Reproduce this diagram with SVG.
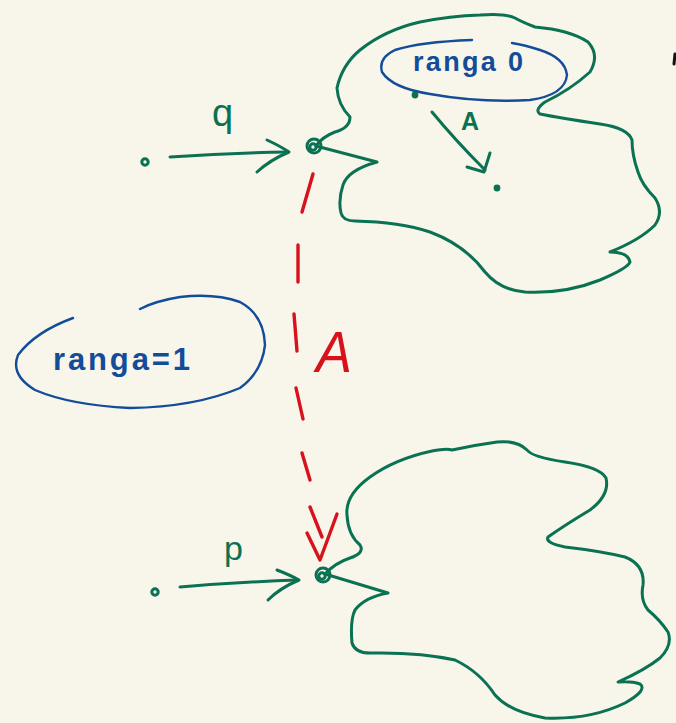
<svg xmlns="http://www.w3.org/2000/svg" width="676" height="723" viewBox="0 0 676 723">
  <defs>
    <style>
      .ink-g { fill: none; stroke: #0a7252; stroke-width: 3; stroke-linecap: round; stroke-linejoin: round; }
      .ink-b { fill: none; stroke: #134c98; stroke-width: 2.4; stroke-linecap: round; stroke-linejoin: round; }
      .ink-r { fill: none; stroke: #d8121c; stroke-width: 3.4; stroke-linecap: round; stroke-linejoin: round; }
      .dot-g { fill: #0a7252; }
      .lbl { font-family: "Liberation Sans", "DejaVu Sans", sans-serif; }
      .lbl-g { fill: #0a7252; }
      .lbl-b { fill: #134c98; font-weight: bold; }
      .lbl-r { fill: #d8121c; }
    </style>
  </defs>

  <rect width="676" height="723" fill="#f8f6eb"/>

  <!-- upper region (rank 0) -->
  <g id="region-top">
    <path class="ink-g" d="M316,146 L377,162 Q348,170 343,185 Q338,200 341,213 Q343,221 355,221 Q400,222 430,232 Q465,245 485,272 Q500,290 525,292 Q565,294 600,280 Q628,268 630,262 Q628,252 610,252 Q640,240 655,225 Q664,212 655,198 Q642,185 638,172 Q632,155 632,140 Q628,128 600,124 Q560,118 540,114 Q534,110 545,102 Q570,90 590,72 Q600,55 588,42 Q570,30 535,27 Q522,22 515,18 Q505,13 480,15 Q450,16 420,22 Q385,30 360,50 Q342,65 337,88 Q338,105 350,117 Q350,128 335,132 Q322,137 316,146"/>
  </g>

  <g id="label-rank0">
    <path class="ink-b" d="M472,40 Q420,42 395,50 Q378,58 382,72 Q392,88 430,94 Q480,103 530,100 Q565,95 567,75 Q565,58 540,50 Q525,45 512,43"/>
    <text class="lbl lbl-b" x="413" y="71" font-size="27" textLength="110" lengthAdjust="spacing">ranga 0</text>
  </g>

  <g id="point-a">
    <circle class="dot-g" cx="415" cy="95" r="3.4"/>
  </g>
  <g id="point-b">
    <circle class="dot-g" cx="497" cy="188" r="3.4"/>
  </g>

  <!-- lower region -->
  <g id="region-bottom">
    <path class="ink-g" d="M325,574 L388,593 Q365,597 355,610 Q350,620 352,643 Q355,653 370,653 Q420,652 455,660 Q480,672 495,695 Q510,712 545,718 Q590,720 625,703 Q648,690 640,684 Q632,681 618,682 Q645,670 660,658 Q673,645 668,632 Q660,620 648,610 Q640,600 643,585 Q645,565 625,557 Q600,551 565,547 Q545,543 548,537 Q565,525 590,510 Q610,495 606,478 Q600,467 565,462 Q532,457 527,450 Q517,440 497,442 Q475,445 452,450 Q447,448 432,451 Q395,459 370,477 Q345,495 347,515 Q348,535 360,545 Q365,553 350,558 Q335,563 325,574"/>
  </g>

  <g id="label-rank1">
    <path class="ink-b" d="M73,318 Q35,332 18,355 Q10,375 35,390 Q70,405 130,408 Q195,407 240,388 Q262,372 265,345 Q264,315 240,302 Q215,293 180,297 Q155,301 140,309"/>
    <text class="lbl lbl-b" x="53" y="370" font-size="31" textLength="137" lengthAdjust="spacing">ranga=1</text>
  </g>

  <!-- start points and junction nodes -->
  <g id="start-q">
    <circle class="ink-g" cx="145" cy="162" r="3.2" stroke-width="3.4"/>
  </g>
  <g id="node-top">
    <circle class="ink-g" cx="314" cy="146" r="7"/>
    <circle class="ink-g" cx="313" cy="147" r="3.2"/>
  </g>
  <g id="start-p">
    <circle class="ink-g" cx="155" cy="592" r="3.2" stroke-width="3.4"/>
  </g>
  <g id="node-bottom">
    <circle class="ink-g" cx="323" cy="575" r="7"/>
    <circle class="ink-g" cx="322" cy="576" r="3.2"/>
  </g>

  <!-- connectors -->
  <g id="connectors">
    <g id="edge-q">
      <path class="ink-g" d="M170,157 Q230,153 288,152"/>
      <path class="ink-g" d="M267,140 Q280,146 289,152 Q270,160 257,172"/>
      <text class="lbl lbl-g" x="212" y="126" font-size="38">q</text>
    </g>
    <g id="edge-p">
      <path class="ink-g" d="M180,587 Q240,582 298,580"/>
      <path class="ink-g" d="M277,570 Q290,575 299,580 Q280,588 268,600"/>
      <text class="lbl lbl-g" x="224" y="560" font-size="34">p</text>
    </g>
    <g id="edge-inner-a">
      <path class="ink-g" d="M432,112 Q455,140 485,170"/>
      <path class="ink-g" d="M467,167 L484,172 L490,153"/>
      <text class="lbl lbl-g" x="461" y="130" font-size="25" font-weight="bold">A</text>
    </g>
    <g id="edge-map-a">
      <path class="ink-r" d="M313,174 L302,212"/>
      <path class="ink-r" d="M298,245 L298,282"/>
      <path class="ink-r" d="M294,314 L297,351"/>
      <path class="ink-r" d="M296,388 L303,419"/>
      <path class="ink-r" d="M302,453 L310,480"/>
      <path class="ink-r" d="M310,507 L322,537"/>
      <path class="ink-r" d="M307,533 L320,560 L337,514"/>
      <text class="lbl lbl-r" x="316" y="372" font-size="58" font-style="italic" textLength="36" lengthAdjust="spacingAndGlyphs">A</text>
    </g>
  </g>

  <path d="M675,54 L674,64" fill="none" stroke="#111" stroke-width="3" stroke-linecap="round"/>
</svg>
